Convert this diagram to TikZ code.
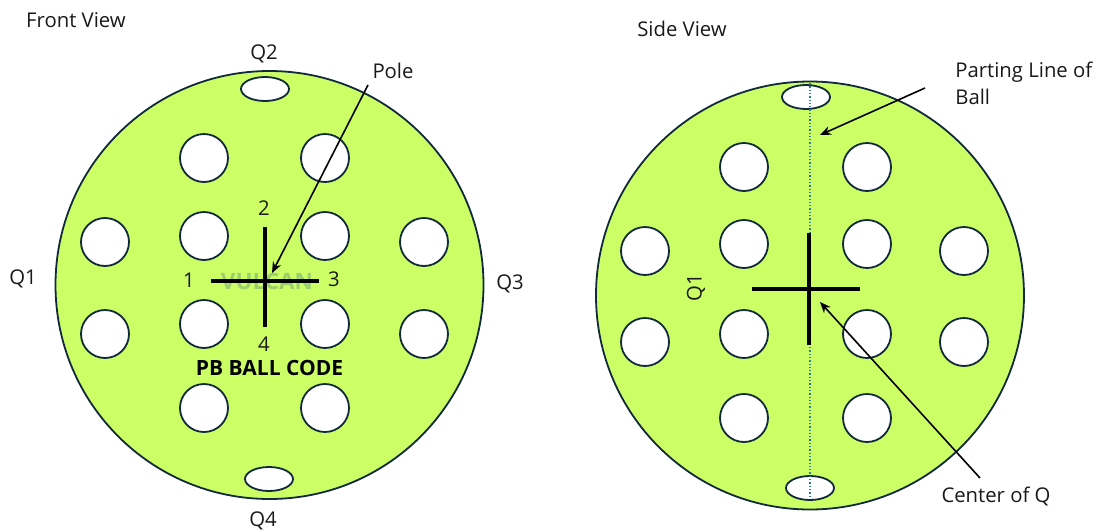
\documentclass[tikz,border=0pt]{standalone}
\usepackage{fontspec}
\setmainfont{Open Sans}
\usetikzlibrary{arrows.meta, positioning, shapes.geometric}
\definecolor{ballgreen}{HTML}{CCFF66}
\definecolor{ballline}{HTML}{12283C}
\definecolor{partline}{HTML}{2E7D9A}
\definecolor{stampgreen}{HTML}{9CCF6C}
\begin{document}
\begin{tikzpicture}[x=1pt, y=-1pt, thick, >={Stealth[length=11pt,width=9pt]}]

		% Define block styles
		\tikzstyle{ball} = [circle, draw=ballline, line width=1.8pt, fill=ballgreen, inner sep=0pt, minimum size=428pt]
		\tikzstyle{hole} = [circle, draw=ballline, line width=1.8pt, fill=white, inner sep=0pt, minimum size=48pt]
		\tikzstyle{slot} = [ellipse, draw=ballline, line width=1.8pt, fill=white, inner sep=0pt, minimum width=48pt, minimum height=24pt]
		\tikzstyle{label} = [font=\fontsize{20.3}{27}\selectfont, text=black!90, inner sep=0pt]
		\tikzstyle{bar} = [line width=3.4pt, black]
		\tikzstyle{pointer} = [->, line width=1.6pt, black]

		\useasboundingbox (0,0) rectangle (1096,531);

		% Front view
		\node[ball] (front) at (269.5,285) {};
		\foreach \name/\x/\y in {a/204/158, b/325/158, c/204/236, d/325/236, e/105/242, f/424/242, g/105/334, h/424/334, i/204/324, j/325/324, k/204/408, l/325/408}
			\node[hole] (front\name) at (\x,\y) {};
		\node[slot] (slottop) at (265,89) {};
		\node[slot] (slotbottom) at (269,479) {};

		\node[font=\bfseries\fontsize{22.5}{24}\selectfont, text=stampgreen, inner sep=0pt] (stamp) at (267,281) {VULCAN};
		\coordinate (polewest) at (211,281);
		\coordinate (poleeast) at (319,281);
		\coordinate (polenorth) at (265,227);
		\coordinate (polesouth) at (265,327);
		\draw[bar] (polewest) -- (poleeast);
		\draw[bar] (polenorth) -- (polesouth);

		\node[label] (num1) at (189,280) {1};
		\node[label] (num2) at (264,208) {2};
		\node[label] (num3) at (334,279) {3};
		\node[label] (num4) at (264,344) {4};
		\node[font=\bfseries\fontsize{21}{24}\selectfont, inner sep=0pt] (code) at (269.5,368) {PB BALL CODE};

		\node[label] (frontview) at (76,20) {Front View};
		\node[label] (q2) at (264,54) {Q2};
		\node[label] (q1) at (23,279) {Q1};
		\node[label] (q3) at (510,284) {Q3};
		\node[label] (q4) at (263,521) {Q4};
		\node[label] (pole) at (393,71) {Pole};

		% Side view
		\node[ball] (side) at (810,295.5) {};
		\foreach \name/\x/\y in {a/744/167, b/867/167, c/744/244, d/867/244, e/645/251, f/964/251, g/645/342, h/964/342, i/744/334, j/867/334, k/744/418, l/867/418}
			\node[hole] (side\name) at (\x,\y) {};
		\node[slot] (sidetop) at (806,97) {};
		\node[slot] (sidebottom) at (810,488) {};

		\coordinate (partnorth) at (810,83);
		\coordinate (partsouth) at (810,498);
		\draw[partline, line width=1.3pt, dotted] (partnorth) -- (partsouth);

		\coordinate (crosswest) at (752,289);
		\coordinate (crosseast) at (860,289);
		\coordinate (crossnorth) at (809,233);
		\coordinate (crosssouth) at (809,345);
		\draw[bar] (crosswest) -- (crosseast);
		\draw[bar] (crossnorth) -- (crosssouth);

		\node[label] (sideview) at (682,29) {Side View};
		\node[label, rotate=90] (sideq) at (696,288) {Q1};
		\node[label, align=left, anchor=north west] (parting) at (955,62) {Parting Line of\\Ball};
		\node[label] (centerq) at (996,496) {Center of Q};

		% Arrows
		\coordinate (poletail) at (368,85);
		\coordinate (polehead) at (272,273);
		\coordinate (parttail) at (925,88);
		\coordinate (parthead) at (820,135);
		\coordinate (centertail) at (980,478);
		\coordinate (centerhead) at (820,302);
		\draw[pointer] (poletail) -- (polehead);
		\draw[pointer] (parttail) -- (parthead);
		\draw[pointer] (centertail) -- (centerhead);

\end{tikzpicture}
\end{document}
